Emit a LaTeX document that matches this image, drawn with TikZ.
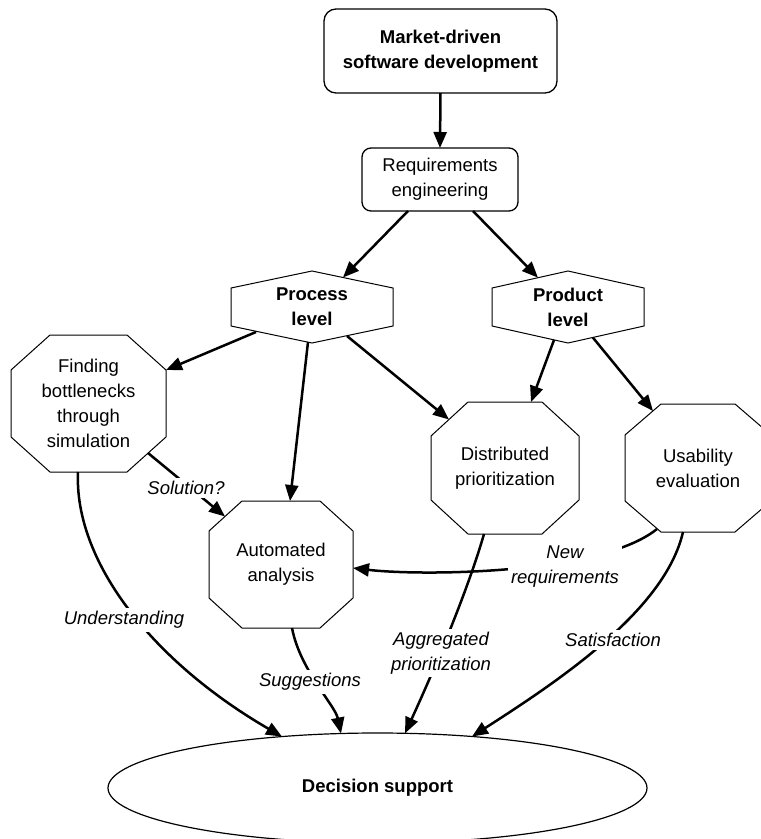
\documentclass[tikz,border=0pt]{standalone}
\usepackage{fontspec}
\setmainfont{Liberation Sans}
\usetikzlibrary{arrows.meta,calc,shapes.geometric}

\tikzset{
  txt/.style={font=\fontsize{18.5}{25}\selectfont},
  bold/.style={font=\fontsize{18.5}{25}\selectfont\bfseries},
  rbox/.style={rectangle, draw, line width=1.3pt, inner sep=0pt, outer sep=0pt, align=center, txt},
  polybox/.style={rectangle, inner sep=0pt, outer sep=0pt, align=center, txt},
  poly/.style={line width=1pt, line join=miter},
  lab/.style={fill=white, inner sep=3pt, align=center, font=\fontsize{18.5}{25}\selectfont\itshape},
  arr/.style={line width=2.5pt, -{Triangle[length=16pt,width=13pt]}},
}

% outline of a hexagon with a vertex at top and bottom
\newcommand\hexoutline[2]{%
  \draw[poly] ($(#1.north west)+(0,#2)$) -- (#1.north) -- ($(#1.north east)+(0,#2)$)
    -- ($(#1.south east)+(0,-#2)$) -- (#1.south) -- ($(#1.south west)+(0,-#2)$) -- cycle;}
% outline of an octagon with corner cuts #2 (horizontal) and #3 (vertical)
\newcommand\octoutline[3]{%
  \draw[poly] ($(#1.north west)+(#2,0)$) -- ($(#1.north east)+(-#2,0)$)
    -- ($(#1.north east)+(0,#3)$) -- ($(#1.south east)+(0,-#3)$)
    -- ($(#1.south east)+(-#2,0)$) -- ($(#1.south west)+(#2,0)$)
    -- ($(#1.south west)+(0,-#3)$) -- ($(#1.north west)+(0,#3)$) -- cycle;}

\begin{document}
\begin{tikzpicture}[x=1pt,y=-1pt]
\useasboundingbox (0,0) rectangle (761,839);

% nodes
\node[rbox, bold, minimum width=233pt, minimum height=84pt, rounded corners=12pt] (market) at (440.5,51) {Market-driven\\software development};
\node[rbox, minimum width=156pt, minimum height=63pt, rounded corners=9pt] (req) at (440,179.5) {Requirements\\engineering};
\node[polybox, bold, minimum width=162pt, minimum height=72pt] (proc) at (312,307) {Process\\level};
\node[polybox, bold, minimum width=152pt, minimum height=72pt] (prod) at (568,307) {Product\\level};
\node[polybox, minimum width=155pt, minimum height=137pt] (find) at (88.5,403.5) {Finding\\bottlenecks\\through\\simulation};
\node[polybox, minimum width=144pt, minimum height=127pt] (auto) at (281,564.5) {Automated\\analysis};
\node[polybox, minimum width=148pt, minimum height=132pt] (dist) at (505,468) {Distributed\\prioritization};
\node[polybox, minimum width=146pt, minimum height=128pt] (usab) at (698,468) {Usability\\evaluation};
\node[ellipse, draw, line width=1.2pt, minimum width=539pt, minimum height=110pt, inner sep=0pt, outer sep=0pt, bold] (dec) at (377.5,788) {Decision support};

% outlines
\hexoutline{proc}{17}
\hexoutline{prod}{17}
\octoutline{find}{39}{35}
\octoutline{auto}{33}{30}
\octoutline{dist}{37}{34}
\octoutline{usab}{36}{31}

% connectors
\draw[arr] (market.south) -- (req.north);
\draw[arr] ($(req.south)+(-32,0)$) -- ($(proc.north)+(31,6.5)$);
\draw[arr] ($(req.south)+(33,0)$) -- ($(prod.north)+(-30,6.7)$);
\draw[arr] ($(proc.south)+(-56,-11)$) -- ($(find.north east)+(0,35)$);
\draw[arr] ($(proc.south)+(-4,-1)$) -- ($(auto.north)+(9,0)$);
\draw[arr] ($(proc.south)+(35,-7)$) -- ($(dist.north west)+(18,17.5)$);
\draw[arr] ($(prod.south)+(-14,-3)$) -- ($(dist.north)+(26,0)$);
\draw[arr] ($(prod.south)+(25,-5.3)$) -- ($(usab.north west)+(28,7)$);
\draw[arr] ($(find.south east)+(-18,-19)$) -- ($(auto.north west)+(16,15.5)$);
\draw[arr] ($(find.south)+(-10.5,0)$) .. controls (74,560) and (150,660) .. ($(dec.center)+(-95.5,-51.4)$);
\draw[arr] ($(auto.south)+(11,0)$) .. controls (300,670) and (335,705) .. ($(dec.center)+(-36.5,-54.5)$);
\draw[arr] ($(dist.south)+(-21,0)$) .. controls (465,600) and (425,690) .. ($(dec.center)+(27.5,-54.7)$);
\draw[arr] ($(usab.south)+(-15,0)$) .. controls (665,610) and (560,680) .. ($(dec.center)+(94.5,-51.5)$);
\draw[arr] ($(usab.south west)+(32,-3)$) .. controls (600,575) and (420,576) .. ($(auto.east)+(0,3.5)$);

% labels
\node[lab] (lsol) at (186,488) {Solution?};
\node[lab] (lund) at (124,620) {Understanding};
\node[lab] (lsug) at (310,682) {Suggestions};
\node[lab] (lagg) at (441,653) {Aggregated\\prioritization};
\node[lab] (lsat) at (613,640) {Satisfaction};
\node[lab] (lnew) at (565,567) {New\\requirements};
\end{tikzpicture}
\end{document}
